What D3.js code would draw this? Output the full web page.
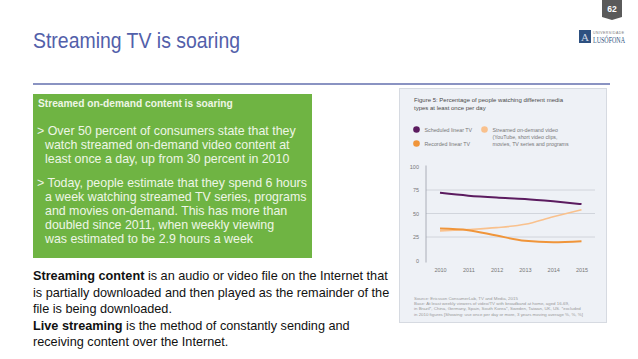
<!DOCTYPE html>
<html><head><meta charset="utf-8">
<script src="https://cdn.jsdelivr.net/npm/d3@7"></script>
<style>html,body{margin:0;padding:0;background:#fff;}svg{display:block;font-family:"Liberation Sans",Arial,sans-serif;}</style>
</head><body>
<script>
const years = ["2010","2011","2012","2013","2014","2015"];
const scheduledLinearTV = [72, 69, 67, 65.5, 63, 60];
const recordedLinearTV = [34, 32.3, 26.5, 21, 19.5, 20.5];
const streamedOnDemand = [31.5, 33, 35, 38.5, 46.5, 54];
const yTickValues = [0, 25, 50, 75, 100];
const gridValues = [25, 50, 75];
const seriesNames = ["Scheduled linear TV", "Recorded linear TV", "Streamed on-demand video"];

const W = 638, H = 359;
const svg = d3.select("body").append("svg").attr("width", W).attr("height", H);

// slide title
svg.append("text").attr("x", 33).attr("y", 48).attr("font-size", 22).attr("fill", "#5260aa")
  .attr("textLength", 207).attr("lengthAdjust", "spacingAndGlyphs")
  .text("Streaming TV is soaring");
svg.append("line").attr("x1", 33).attr("x2", 610).attr("y1", 84).attr("y2", 84)
  .attr("stroke", "#8a93c2").attr("stroke-width", 2);

// page number badge
svg.append("path").attr("d", "M602,0 H622 V17 L612,20 L602,17 Z").attr("fill", "#5a5a5a");
svg.append("text").attr("x", 612).attr("y", 12).attr("text-anchor", "middle").attr("font-size", 8.5)
  .attr("font-weight", "bold").attr("fill", "#fff").text("62");

// logo
svg.append("rect").attr("x", 579).attr("y", 30).attr("width", 12).attr("height", 13).attr("fill", "#2d5080");
svg.append("text").attr("x", 585).attr("y", 41).attr("text-anchor", "middle").attr("font-size", 11)
  .attr("font-family", "Liberation Serif").attr("fill", "#cfd9e6").text("A");
svg.append("text").attr("x", 593).attr("y", 34).attr("font-size", 3.5).attr("fill", "#777")
  .attr("textLength", 31).text("UNIVERSIDADE");
svg.append("text").attr("x", 593).attr("y", 43).attr("font-size", 7.5).attr("font-family", "Liberation Serif")
  .attr("fill", "#2d4f7c").attr("textLength", 32).attr("lengthAdjust", "spacingAndGlyphs").text("LUSÓFONA");

// green box
svg.append("rect").attr("x", 33).attr("y", 94).attr("width", 279).attr("height", 164).attr("fill", "#6fb443");
const gText = svg.append("g").attr("fill", "#eef6e6");
gText.append("text").attr("x", 38).attr("y", 107).attr("font-size", 10.2).attr("font-weight", "bold")
  .text("Streamed on-demand content is soaring");
const bullets = [
  {lines: ["> Over 50 percent of consumers state that they", "watch streamed on-demand video content at", "least once a day, up from 30 percent in 2010"], y: 135},
  {lines: ["> Today, people estimate that they spend 6 hours", "a week watching streamed TV series, programs", "and movies on-demand. This has more than", "doubled since 2011, when weekly viewing", "was estimated to be 2.9 hours a week"], y: 186.5}
];
bullets.forEach(b => {
  b.lines.forEach((l, i) => {
    gText.append("text").attr("x", i === 0 ? 37 : 45).attr("y", b.y + i * 14).attr("font-size", 12.4).text(l);
  });
});

// body text
const body = svg.append("g").attr("fill", "#111").attr("font-size", 12.7);
const bl = [
  [["Streaming content", true], [" is an audio or video file on the Internet that", false]],
  [["is partially downloaded and then played as the remainder of the", false]],
  [["file is being downloaded.", false]],
  [["Live streaming", true], [" is the method of constantly sending and", false]],
  [["receiving content over the Internet.", false]]
];
bl.forEach((parts, i) => {
  const t = body.append("text").attr("x", 33).attr("y", 280 + i * 16.5);
  parts.forEach(p => t.append("tspan").attr("font-weight", p[1] ? "bold" : "normal").text(p[0]));
});

// chart panel
svg.append("rect").attr("x", 399.5).attr("y", 88.5).attr("width", 207).attr("height", 234)
  .attr("fill", "#eef1f6").attr("stroke", "#d6dae1");
const pg = svg.append("g").attr("fill", "#4a4a4a").attr("font-size", 6);
pg.append("text").attr("x", 414).attr("y", 102).text("Figure 5: Percentage of people watching different media");
pg.append("text").attr("x", 414).attr("y", 110).text("types at least once per day");

const colors = ["#5b1b5f", "#f0953a", "#f9c18d"];
// legend
const leg = [
  {c: colors[0], x: 416.5, y: 129.5, lines: [seriesNames[0]]},
  {c: colors[1], x: 416.5, y: 143.5, lines: [seriesNames[1]]},
  {c: colors[2], x: 484.5, y: 129.5, lines: [seriesNames[2], "(YouTube, short video clips,", "movies, TV series and programs"]}
];
leg.forEach(l => {
  svg.append("circle").attr("cx", l.x).attr("cy", l.y).attr("r", 3.3).attr("fill", l.c);
  l.lines.forEach((s, i) => {
    svg.append("text").attr("x", l.x + 8).attr("y", l.y + 2 + i * 7.3).attr("font-size", 5.3).attr("fill", "#777").text(s);
  });
});

const x = d3.scalePoint().domain(years).range([440, 581.5]);
const y = d3.scaleLinear().domain([0, 100]).range([260.5, 166.5]);

svg.append("g").selectAll("line").data(gridValues).join("line")
  .attr("x1", 426).attr("x2", 595).attr("y1", d => y(d)).attr("y2", d => y(d))
  .attr("stroke", "#c9ced6").attr("stroke-width", 0.8);
svg.append("line").attr("x1", 426).attr("x2", 426).attr("y1", y(100) - 1).attr("y2", y(0) + 2)
  .attr("stroke", "#9aa0aa").attr("stroke-width", 0.8);

const yAxis = svg.append("g").attr("transform", "translate(419,0)")
  .call(d3.axisLeft(y).tickValues(yTickValues).tickSize(0).tickPadding(0));
yAxis.select(".domain").remove();
yAxis.selectAll("text").attr("font-size", 5.5).attr("fill", "#777").attr("font-family", "Liberation Sans");

const xAxis = svg.append("g").attr("transform", "translate(0,268)")
  .call(d3.axisBottom(x).tickSize(0).tickPadding(0));
xAxis.select(".domain").remove();
xAxis.selectAll("text").attr("font-size", 5.5).attr("fill", "#777").attr("font-family", "Liberation Sans");

const line = d3.line().x((d, i) => x(years[i])).y(d => y(d)).curve(d3.curveMonotoneX);
[[streamedOnDemand, colors[2], 1.6], [recordedLinearTV, colors[1], 2], [scheduledLinearTV, colors[0], 2]].forEach(s => {
  svg.append("path").attr("d", line(s[0])).attr("fill", "none").attr("stroke", s[1]).attr("stroke-width", s[2]);
});

// source
const src = ["Source: Ericsson ConsumerLab, TV and Media, 2015",
  "Base: At least weekly viewers of video/TV with broadband at home, aged 16-69,",
  "in Brazil*, China, Germany, Spain, South Korea*, Sweden, Taiwan, UK, US. *excluded",
  "in 2010 figures [Showing: use once per day or more, 3 years moving average %, %, %]"];
src.forEach((s, i) => {
  svg.append("text").attr("x", 414).attr("y", 300 + i * 5.2).attr("font-size", 4.4).attr("fill", "#999").text(s);
});
</script>
</body></html>
